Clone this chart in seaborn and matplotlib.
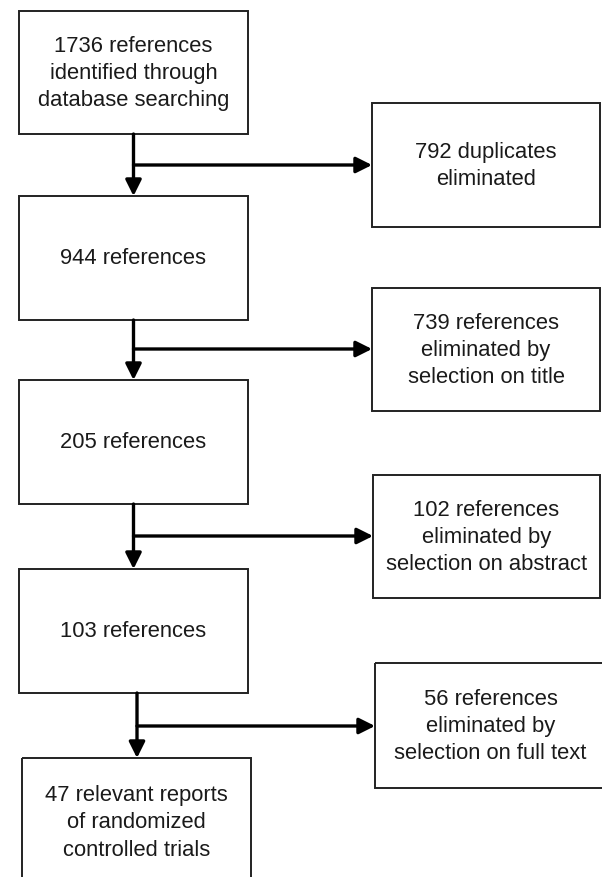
import matplotlib
matplotlib.use("Agg")
import matplotlib.pyplot as plt
import seaborn as sns
from matplotlib.patches import Rectangle

# --- flowchart content ---
main_labels = [
    "1736 references\nidentified through\ndatabase searching",
    "944 references",
    "205 references",
    "103 references",
    "47 relevant reports\nof randomized\ncontrolled trials",
]
excluded_labels = [
    "792 duplicates\neliminated",
    "739 references\neliminated by\nselection on title",
    "102 references\neliminated by\nselection on abstract",
    "56 references\neliminated by\nselection on full text",
]

# --- layout (pixel coords, y down) ---
main_boxes = [(19, 12, 248, 135), (19, 197, 248, 321), (19, 381, 248, 505),
              (19, 570, 248, 694), (22, 759, 251, 887)]
side_boxes = [(372, 104, 600, 228), (372, 289, 600, 412), (373, 476, 600, 599),
              (375, 664, 606, 789)]
stem_x = [133.5, 133.5, 133.5, 137]
branch_y = [166, 350, 537, 727]

sns.set_theme(style="white")
plt.rcParams["font.family"] = ["Liberation Sans", "DejaVu Sans"]

fig = plt.figure(figsize=(6.02, 8.78), dpi=100)
ax = fig.add_axes([0, 0, 1, 1])
ax.set_xlim(0, 602)
ax.set_ylim(878, 0)
ax.axis("off")

def draw_box(box, text):
    x0, y0, x1, y1 = box
    ax.add_patch(Rectangle((x0, y0), x1 - x0, y1 - y0, fill=False,
                           edgecolor="#222222", linewidth=1.4))
    ax.text((x0 + x1) / 2, (y0 + y1) / 2, text, ha="center", va="center",
            fontsize=15.8, color="#1a1a1a", linespacing=1.38)

for box, label in zip(main_boxes, main_labels):
    draw_box(box, label)
for box, label in zip(side_boxes, excluded_labels):
    draw_box(box, label)

arrow = dict(arrowstyle="-|>,head_length=0.8,head_width=0.4", color="black",
             lw=2.4, shrinkA=0, shrinkB=0, mutation_scale=12)
for i in range(4):
    x = stem_x[i]
    ax.annotate("", xy=(x, main_boxes[i + 1][1]), xytext=(x, main_boxes[i][3]),
                arrowprops=arrow)
    ax.annotate("", xy=(side_boxes[i][0], branch_y[i]), xytext=(x, branch_y[i]),
                arrowprops=arrow)

fig.savefig("out.png", dpi=100)
